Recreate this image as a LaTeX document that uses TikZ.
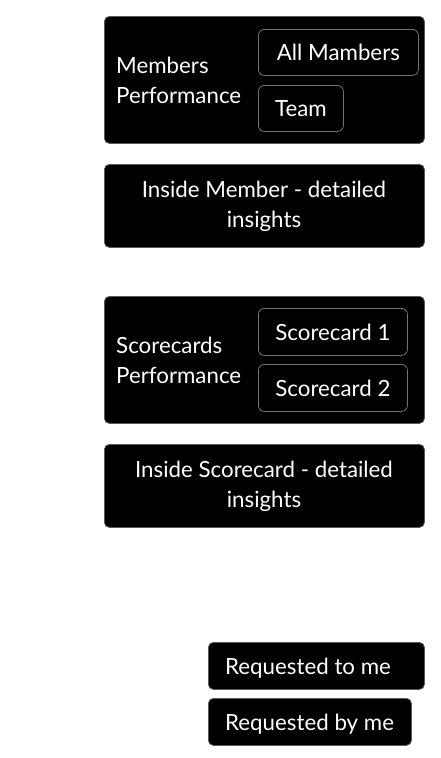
\documentclass[tikz,border=0pt]{standalone}
\usepackage{fontspec}
\setmainfont{Lato}
\begin{document}
\begin{tikzpicture}[x=1pt,y=-1pt,
  outerbox/.style={draw=black!65,line width=0.8pt,fill=black,rounded corners=5pt},
  innerbox/.style={draw=black!55,line width=0.8pt,fill=black,rounded corners=6pt},
  txt/.style={text=white,font=\fontsize{22.3}{30}\selectfont,inner sep=0pt}]
\useasboundingbox (0,0) rectangle (440,758);
% Members
\node[outerbox,anchor=north west,minimum width=320pt,minimum height=127pt,inner sep=0pt] (mem) at (104,16) {};
\node[txt,align=left,anchor=west] (memt) at (116,80.5) {Members\\Performance};
\node[innerbox,txt,anchor=north west,minimum width=160pt,minimum height=46pt] (all) at (258,29) {All Mambers};
\node[innerbox,txt,anchor=north west,minimum width=85pt,minimum height=46pt] (team) at (258,85) {Team};
% Inside member
\node[outerbox,anchor=north west,minimum width=320pt,minimum height=83pt,inner sep=0pt] (insm) at (104,164) {};
\node[txt,align=center] (insmt) at (264,206.5) {Inside Member - detailed\\insights};
% Scorecards
\node[outerbox,anchor=north west,minimum width=320pt,minimum height=127pt,inner sep=0pt] (sc) at (104,296) {};
\node[txt,align=left,anchor=west] (sct) at (116,360.5) {Scorecards\\Performance};
\node[innerbox,txt,anchor=north west,minimum width=149pt,minimum height=47pt] (sc1) at (258,308) {Scorecard 1};
\node[innerbox,txt,anchor=north west,minimum width=149pt,minimum height=47pt] (sc2) at (258,364) {Scorecard 2};
% Inside scorecard
\node[outerbox,anchor=north west,minimum width=320pt,minimum height=83pt,inner sep=0pt] (inss) at (104,444) {};
\node[txt,align=center] (insst) at (264,486.5) {Inside Scorecard - detailed\\insights};
% Requests
\node[outerbox,anchor=north west,minimum width=216pt,minimum height=47pt,inner sep=0pt] (rto) at (208,642) {};
\node[txt,anchor=west] (rtot) at (225,668) {Requested to me};
\node[outerbox,anchor=north west,minimum width=203pt,minimum height=47pt,inner sep=0pt] (rby) at (208,698) {};
\node[txt,anchor=west] (rbyt) at (225,724) {Requested by me};
\end{tikzpicture}
\end{document}
